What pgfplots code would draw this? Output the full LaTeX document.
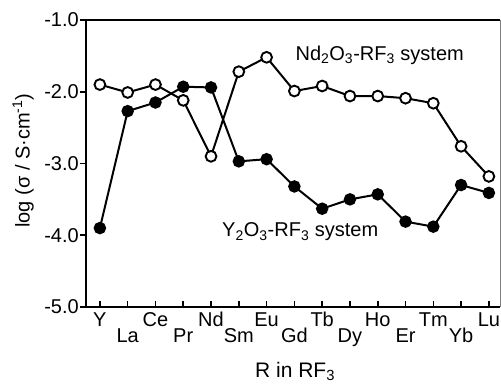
\documentclass[border=0pt]{standalone}
\usepackage{fontspec}
\setmainfont{Liberation Sans}
\usepackage{pgfplots}
\pgfplotsset{compat=1.18}
\begin{document}
\begin{tikzpicture}
\useasboundingbox (-86pt,-78pt) rectangle (415pt,307pt);
\begin{axis}[
  scale only axis,
  width=414pt, height=287pt,
  xmin=-0.5, xmax=14.4,
  ymin=-5, ymax=-1,
  axis x line*=box, axis y line*=left,
  xtick={0,...,14},
  xticklabels={Y,\raisebox{-16pt}{La},Ce,\raisebox{-16pt}{Pr},Nd,\raisebox{-16pt}{Sm},Eu,\raisebox{-16pt}{Gd},Tb,\raisebox{-16pt}{Dy},Ho,\raisebox{-16pt}{Er},Tm,\raisebox{-16pt}{Yb},Lu},
  ytick={-5,-4,-3,-2,-1},
  yticklabel style={/pgf/number format/fixed, /pgf/number format/fixed zerofill, /pgf/number format/precision=1},
  /pgf/number format/assume math mode=true,
  x tick label style={font=\fontsize{20}{22}\selectfont, text height=14pt, text depth=0pt, anchor=north, inner sep=0pt, yshift=-5pt},
  y tick label style={font=\fontsize{20}{22}\selectfont, inner sep=1pt},
  xtick pos=bottom, ytick pos=left,
  xtick align=inside,
  ytick align=outside,
  major tick length=6pt,
  tick style={line width=1.6pt, black},
  axis line style={line width=2.2pt},
  xlabel={R in RF\textsubscript{3}},
  ylabel={log (σ / S·cm\textsuperscript{-1})},
  label style={font=\fontsize{20}{22}\selectfont},
  x label style={at={(axis description cs:0.505,-0.226)}, anchor=center, font=\fontsize{21}{24}\selectfont},
  y label style={at={(axis description cs:-0.152,0.51)}, anchor=center},
  clip=false,
]
\addplot[black, line width=2pt, mark=*, mark size=5.5pt, mark options={fill=black, line width=1.5pt}] coordinates {
(0,-3.90) (1,-2.27) (2,-2.15) (3,-1.93) (4,-1.94) (5,-2.97) (6,-2.94) (7,-3.32) (8,-3.63) (9,-3.50) (10,-3.43) (11,-3.81) (12,-3.88) (13,-3.30) (14,-3.41)
};
\addplot[black, line width=2pt, mark=*, mark size=5.4pt, mark options={fill=white, line width=1.9pt}] coordinates {
(0,-1.90) (1,-2.01) (2,-1.90) (3,-2.12) (4,-2.90) (5,-1.72) (6,-1.52) (7,-1.99) (8,-1.92) (9,-2.06) (10,-2.06) (11,-2.09) (12,-2.16) (13,-2.76) (14,-3.18)
};
\node[font=\fontsize{20}{22}\selectfont] at (axis cs:10.07,-1.49) {Nd\textsubscript{2}O\textsubscript{3}-RF\textsubscript{3} system};
\node[font=\fontsize{20}{22}\selectfont] at (axis cs:7.21,-3.955) {Y\textsubscript{2}O\textsubscript{3}-RF\textsubscript{3} system};
\draw[line width=0.6pt, black!50] (rel axis cs:1,0) -- (rel axis cs:1,1);
\end{axis}
\end{tikzpicture}
\end{document}
